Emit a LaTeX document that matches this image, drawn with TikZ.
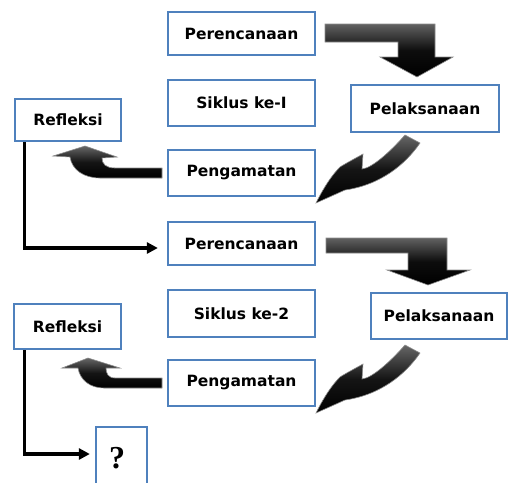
\documentclass[tikz,border=0pt]{standalone}
\usepackage{fontspec}
\setmainfont{DejaVu Sans}
\newfontfamily\qfont{Liberation Serif}
\usetikzlibrary{arrows.meta}
\definecolor{boxblue}{HTML}{4F81BD}
\begin{document}
\begin{tikzpicture}[x=1pt,y=-1pt,
  box/.style={draw=boxblue, line width=2.3pt, fill=white, inner sep=0pt,
    font=\fontsize{15.5}{18}\selectfont\bfseries},
  conn/.style={line width=3.2pt, -{Triangle[length=11pt,width=11pt]}},
  blk/.style={top color=black!62, bottom color=black, middle color=black!95, draw=black!45, line width=0.6pt},
  curv/.style={top color=black!60, bottom color=black, middle color=black!92, draw=black!45, line width=0.6pt}]
\useasboundingbox (0,0) rectangle (508,482);
\clip (0,0) rectangle (508,482);
% boxes
\node[box, minimum width=147pt, minimum height=43pt] (p1) at (241.5,33.5) {Perencanaan};
\node[box, minimum width=147pt, minimum height=46pt] (s1) at (241.5,103) {Siklus ke-I};
\node[box, minimum width=148pt, minimum height=47pt] (l1) at (425,108.5) {Pelaksanaan};
\node[box, minimum width=106pt, minimum height=42pt] (r1) at (68,120) {Refleksi};
\node[box, minimum width=147pt, minimum height=46pt] (g1) at (241.5,173) {Pengamatan};
\node[box, minimum width=147pt, minimum height=43pt] (p2) at (241.5,243.5) {Perencanaan};
\node[box, minimum width=147pt, minimum height=47pt] (s2) at (241.5,313.5) {Siklus ke-2};
\node[box, minimum width=136pt, minimum height=46pt] (l2) at (439,316) {Pelaksanaan};
\node[box, minimum width=107pt, minimum height=45pt] (r2) at (67.5,326.5) {Refleksi};
\node[box, minimum width=147pt, minimum height=46pt] (g2) at (241.5,383) {Pengamatan};
\node[box, minimum width=51pt, minimum height=73pt] (q) at (121.5,463.5) {};
\node[font=\qfont\fontsize{32}{34}\selectfont\bfseries, inner sep=0pt] (qm) at (117,458) {?};
% connectors
\draw[conn, shorten >=9pt] ([xshift=11pt]r1.south west) |- ([yshift=-4.5pt]p2.west);
\draw[conn, shorten >=5pt] ([xshift=11.5pt]r2.south west) |- ([yshift=9.5pt]q.west);
% block arrows (Perencanaan -> Pelaksanaan)
\shade[blk] (325,24) -- (435,24) -- (435,57) -- (453,57) -- (417,77) -- (380,57)
  -- (398,57) -- (398,42) -- (325,42) -- cycle;
\shade[blk] (326,238) -- (447,238) -- (447,270) -- (470,270) -- (428,285) -- (387,270)
  -- (408,270) -- (408,253) -- (326,253) -- cycle;
% diagonal arrows (Pelaksanaan -> Pengamatan)
\foreach \dy in {0,210}{
\shade[curv, shift={(0,\dy)}] (405,135) -- (420,143) .. controls (405,165) and (380,185) .. (345,190)
  -- (316,203) .. controls (325,185) and (333,174) .. (340,167)
  .. controls (348,162) and (356,158) .. (363,154)
  -- (362,169) .. controls (372,168) and (390,152) .. cycle;
}
% curved arrows (Pengamatan -> Refleksi)
\shade[curv] (162,168) -- (115,168) .. controls (106,168) and (102,164) .. (102,158)
  -- (117,157) -- (85,146) -- (53,156) -- (70,157)
  .. controls (72,170) and (84,178) .. (100,178) -- (162,178) -- cycle;
\shade[curv] (162,378) -- (115,378) .. controls (108,378) and (106,373) .. (106,368)
  -- (120,368) -- (88,358) -- (62,368) -- (78,368)
  .. controls (80,380) and (90,388) .. (104,388) -- (162,388) -- cycle;
\end{tikzpicture}
\end{document}
